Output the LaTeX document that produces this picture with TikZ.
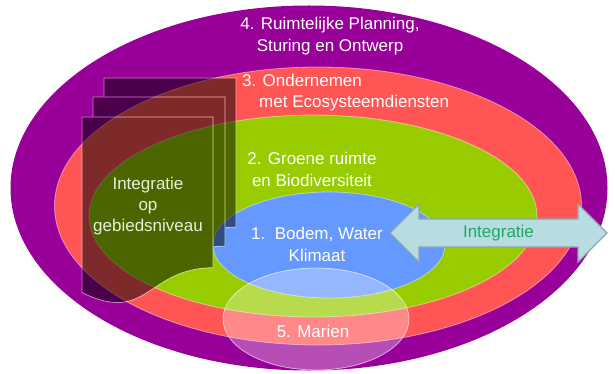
\documentclass[tikz,border=0pt]{standalone}
\usepackage{fontspec}
\setmainfont{Liberation Sans}
\usetikzlibrary{shapes.geometric,shapes.arrows}
\definecolor{cpurple}{HTML}{990099}
\definecolor{cred}{HTML}{FF5555}
\definecolor{cgreen}{HTML}{99CC00}
\definecolor{cblue}{HTML}{6699FF}
\definecolor{arrowfill}{HTML}{B7DDE2}
\definecolor{arrowline}{HTML}{8DA5B0}
\definecolor{arrowtext}{HTML}{1FAA5A}
\definecolor{pagetext}{HTML}{E8F0D8}
\newcommand\docpage[4]{%
  \draw[pageshape] (#1,#2) -- ({#1+#3},#2) -- ({#1+#3},{#2+0.802*#4})
    .. controls ({#1+0.5*#3},{#2+0.802*#4}) and ({#1+0.5*#3},{#2+1.107*#4})
    .. (#1,{#2+0.934*#4}) -- cycle;}
\begin{document}
\begin{tikzpicture}[x=1pt,y=-1pt,
  txt/.style={font=\fontsize{17}{22}\selectfont, text=white, inner sep=0pt},
  ring/.style={ellipse, inner sep=0pt, draw=white, draw opacity=0.45, line width=0.8pt},
  pageshape/.style={fill=black, draw=white, line width=0.8pt}]
\useasboundingbox (0,0) rectangle (615,374);
\fill[white] (0,0) rectangle (615,374);
% rings
\node[ring, fill=cpurple, draw opacity=0, minimum width=597pt, minimum height=365pt] (r4) at (309,188) {};
\node[ring, fill=cred, minimum width=527pt, minimum height=278pt] (r3) at (318,206) {};
\node[ring, fill=cgreen, minimum width=448pt, minimum height=202pt] (r2) at (313,216) {};
\node[ring, fill=cblue, minimum width=232pt, minimum height=106pt] (r1) at (329,245) {};
\node[ellipse, inner sep=0pt, fill=white, fill opacity=0.3, draw=white, draw opacity=0.6, line width=0.8pt,
      minimum width=186pt, minimum height=102pt] (r5) at (316,319) {};
% pages
\begin{scope}[transparency group, opacity=0.5]
  \docpage{104}{78}{132}{186}
  \docpage{93}{97}{132}{186}
  \docpage{82}{117}{131}{188}
\end{scope}
\node[txt, text=pagetext, align=center, font=\fontsize{17}{21}\selectfont] (pg) at (148,206) {Integratie\\op\\gebiedsniveau};
% labels
\node[txt, align=center] (l4) at (330,36.5) {4. Ruimtelijke Planning,\\Sturing en Ontwerp};
\node[txt, align=left, anchor=west, font=\fontsize{17}{21}\selectfont] (l3) at (242,92.5) {3. Ondernemen\\\hspace*{17pt}met Ecosysteemdiensten};
\node[txt, align=center] (l2) at (312,169) {2. Groene ruimte\\en Biodiversiteit};
\node[txt, align=center] (l1) at (317,244) {1.\ \ Bodem, Water\\Klimaat};
\node[txt] (l5) at (313,331) {5. Marien};
% arrow
\node[double arrow, draw=arrowline, line width=1.2pt, fill=arrowfill,
      minimum height=217pt, minimum width=57pt, double arrow head extend=15pt,
      inner xsep=2pt, inner ysep=5.5pt, text=arrowtext,
      font=\fontsize{17}{22}\selectfont] (arr) at (498.5,233) {Integratie};
\end{tikzpicture}
\end{document}
